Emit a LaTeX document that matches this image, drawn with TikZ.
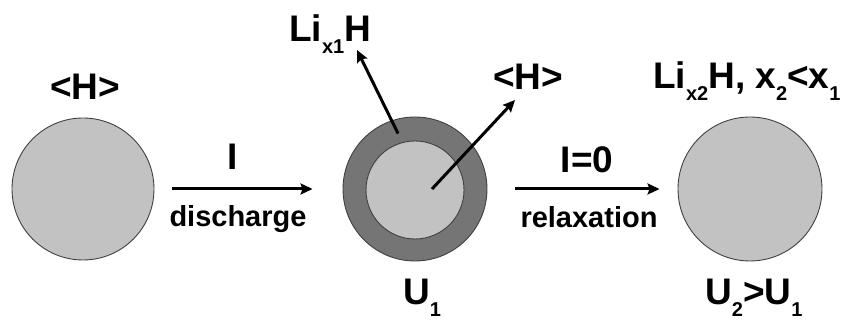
\documentclass[tikz,border=0pt]{standalone}
\usepackage{fontspec}
\setmainfont{Liberation Sans}
\usetikzlibrary{arrows.meta,calc}
\definecolor{grainfill}{gray}{0.76}
\definecolor{shellfill}{gray}{0.46}
\definecolor{rimline}{gray}{0.25}
\newcommand{\lsub}[1]{\raisebox{-12pt}{\fontsize{20}{20}\selectfont #1}}
\tikzset{
  grain/.style={circle,draw=rimline,line width=0.9pt,fill=grainfill,inner sep=0pt},
  lbl/.style={inner sep=0pt,font=\fontsize{37}{40}\selectfont\bfseries},
  proc/.style={inner sep=0pt,font=\fontsize{29}{32}\selectfont\bfseries},
  flow/.style={->,line width=3pt},
}
\begin{document}
\begin{tikzpicture}[>={Stealth[length=12pt,width=11pt,inset=2pt]},x=1pt,y=1pt]
	\useasboundingbox (0,0) rectangle (844,320);
	% particles
	\node[grain,minimum size=142pt] (pA) at (83,131) {};
	\node[grain,fill=shellfill,minimum size=144pt] (pB) at (415,131) {};
	\node[grain,minimum size=98pt] (pBcore) at (415,130) {};
	\node[grain,minimum size=144pt] (pC) at (750,131) {};
	% labels
	\node[lbl,anchor=base] (hA) at (85,220) {<H>};
	\node[lbl,anchor=base west] (liB) at (289,278) {Li\lsub{x1}H};
	\node[lbl,anchor=base west] (hB) at (493,230) {<H>};
	\node[lbl,anchor=base west] (uB) at (403,15) {U\lsub{1}};
	\node[lbl,anchor=base west] (liC) at (653,231) {Li\lsub{x2}H, x\lsub{2}<x\lsub{1}};
	\node[lbl,anchor=base west] (uC) at (705,15) {U\lsub{2}>U\lsub{1}};
	\node[lbl,anchor=base] (cur) at (233,150) {I};
	\node[proc,anchor=base] (dis) at (238,93) {discharge};
	\node[lbl,anchor=base] (cur0) at (587,147) {I=0};
	\node[proc,anchor=base] (rel) at (589,92) {relaxation};
	% process arrows
	\draw[flow,shorten <=18pt,shorten >=30pt] (pA.east) -- (pB.west);
	\draw[flow,shorten <=28pt,shorten >=18pt] (pB.east) -- (pC.west);
	% out of the particle
	\coordinate (liTip) at (357,270);
	\coordinate (hTip) at (515,220);
	\draw[flow] ($(pB)+(107:58)$) -- (liTip);
	\draw[flow] ($(pB)+(17,0)$) -- (hTip);
\end{tikzpicture}
\end{document}
